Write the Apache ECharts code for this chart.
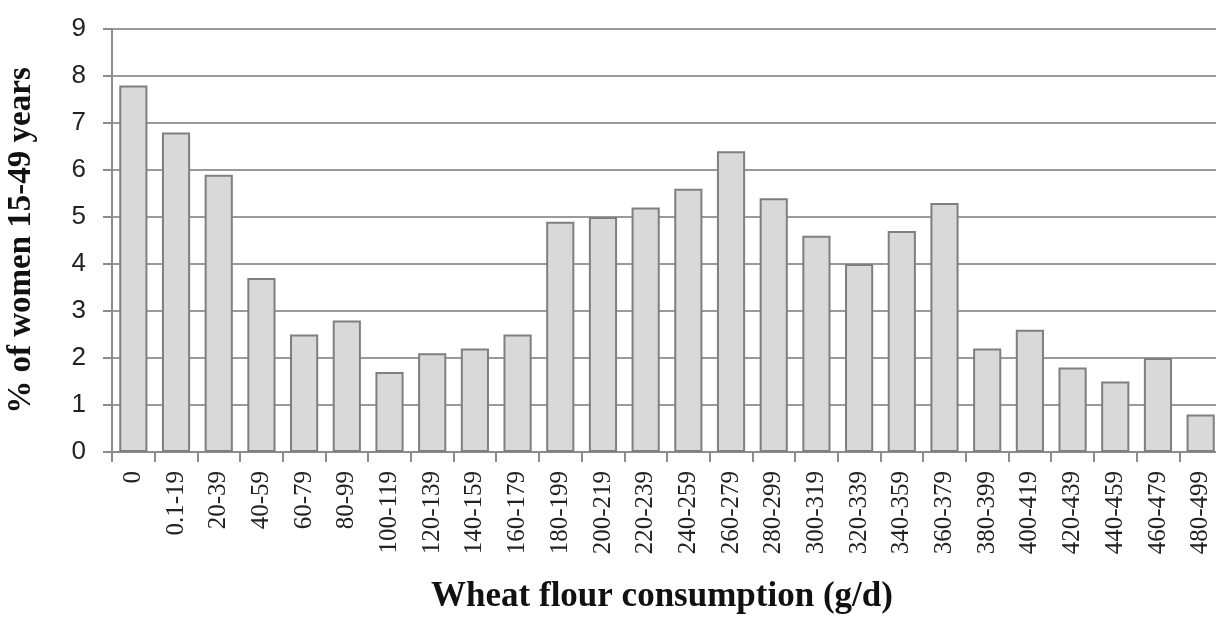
<!DOCTYPE html>
<html>
<head>
<meta charset="utf-8">
<script src="https://cdn.jsdelivr.net/npm/echarts@6/dist/echarts.min.js"></script>
<style>
  html, body { margin: 0; padding: 0; background: #ffffff; }
  #chart { width: 1216px; height: 617px; }
</style>
</head>
<body>
<div id="chart"></div>
<script>
// 类目（g/d）
let categories = [
  "0", "0.1-19", "20-39", "40-59", "60-79", "80-99", "100-119", "120-139",
  "140-159", "160-179", "180-199", "200-219", "220-239", "240-259", "260-279",
  "280-299", "300-319", "320-339", "340-359", "360-379", "380-399", "400-419",
  "420-439", "440-459", "460-479", "480-499"
];
// % of women 15-49 years
let percentValues = [
  7.8, 6.8, 5.9, 3.7, 2.5, 2.8, 1.7, 2.1, 2.2, 2.5, 4.9, 5.0, 5.2, 5.6, 6.4,
  5.4, 4.6, 4.0, 4.7, 5.3, 2.2, 2.6, 1.8, 1.5, 2.0, 0.8
];
let yMin = 0;
let yMax = 9;
let yStep = 1;

var myChart = echarts.init(document.getElementById("chart"));
let option = {
  backgroundColor: "#ffffff",
  animation: false,
  grid: {
    left: 112,
    width: 1110,
    top: 29,
    height: 423,
    outerBoundsMode: "none"
  },
  xAxis: {
    type: "category",
    data: categories,
    name: "Wheat flour consumption (g/d)",
    nameLocation: "middle",
    nameGap: 127,
    nameTextStyle: {
      fontFamily: "Liberation Serif",
      fontWeight: "bold",
      fontSize: 35,
      color: "#111",
      padding: [0, 0, 0, -10]
    },
    axisLine: {
      lineStyle: { color: "#8c8c8c", width: 2 }
    },
    axisTick: {
      show: true,
      length: 10,
      lineStyle: { color: "#8c8c8c", width: 2 }
    },
    axisLabel: {
      rotate: 90,
      interval: 0,
      margin: 19,
      fontFamily: "Liberation Serif",
      fontSize: 25,
      color: "#222"
    }
  },
  yAxis: {
    type: "value",
    min: yMin,
    max: yMax,
    interval: yStep,
    name: "% of women 15-49 years",
    nameLocation: "middle",
    nameGap: 74,
    nameTextStyle: {
      fontFamily: "Liberation Serif",
      fontWeight: "bold",
      fontSize: 33,
      color: "#111"
    },
    axisLine: {
      show: true,
      lineStyle: { color: "#8c8c8c", width: 2 }
    },
    axisTick: {
      show: true,
      length: 9,
      lineStyle: { color: "#8c8c8c", width: 2 }
    },
    axisLabel: {
      margin: 26,
      fontFamily: "Liberation Sans",
      fontSize: 26,
      color: "#222"
    },
    splitLine: {
      lineStyle: { color: "#9a9a9a", width: 2 }
    }
  },
  series: [
    {
      type: "bar",
      data: percentValues,
      barCategoryGap: "34%",
      itemStyle: {
        color: "#d9d9d9",
        borderColor: "#7f7f7f",
        borderWidth: 2
      }
    }
  ]
};
myChart.setOption(option);
</script>
</body>
</html>
